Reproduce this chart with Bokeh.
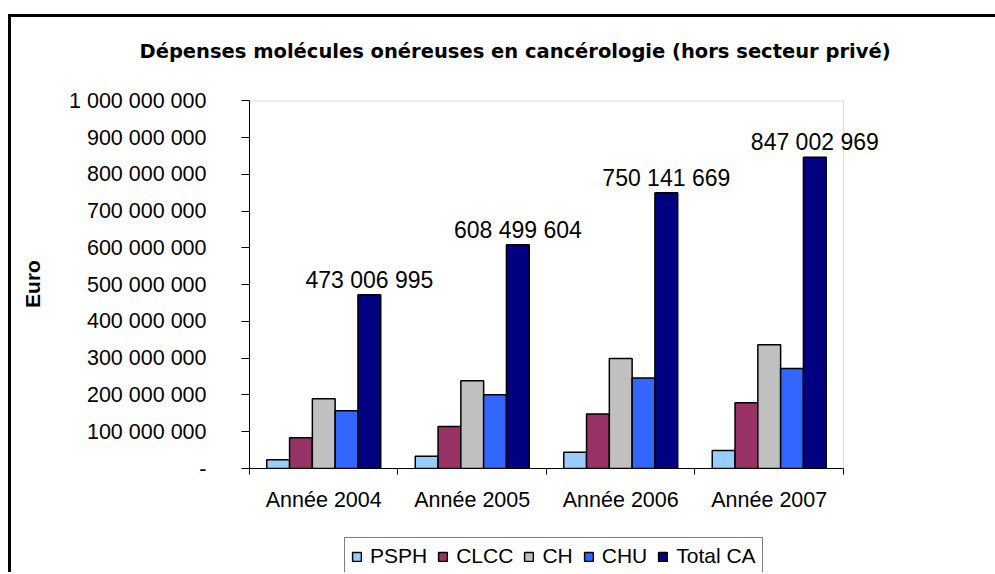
from bokeh.plotting import figure
from bokeh.layouts import column
from bokeh.models import (ColumnDataSource, FixedTicker, Legend, LegendItem, Title,
                          LabelSet, Range1d, BoxAnnotation)
from bokeh.transform import dodge
from bokeh.embed import file_html
from bokeh.resources import INLINE
from bokeh.core.properties import value

# ---- data ----
years = ["Année 2004", "Année 2005", "Année 2006", "Année 2007"]
series = ["PSPH", "CLCC", "CH", "CHU", "Total CA"]
psph = [24e6, 33e6, 44e6, 49e6]
clcc = [84e6, 114e6, 148e6, 179e6]
ch = [190e6, 239e6, 299e6, 337e6]
chu = [157e6, 201e6, 246e6, 272e6]
total_ca = [473006995, 608499604, 750141669, 847002969]
total_labels = ["473 006 995", "608 499 604", "750 141 669", "847 002 969"]
y_ticks = [0, 100000000, 200000000, 300000000, 400000000, 500000000,
           600000000, 700000000, 800000000, 900000000, 1000000000]
y_tick_labels = ["-", "100 000 000", "200 000 000", "300 000 000", "400 000 000",
                 "500 000 000", "600 000 000", "700 000 000", "800 000 000",
                 "900 000 000", "1 000 000 000"]
title_text = "Dépenses molécules onéreuses en cancérologie (hors secteur privé)"

colors = ["#99CCFF", "#993366", "#C0C0C0", "#3366FF", "#000080"]
FONT = "Liberation Sans"

n = len(years)
x_centers = [i + 0.5 for i in range(n)]
x_bounds = [float(i) for i in range(n + 1)]
y_top = y_ticks[-1]

source = ColumnDataSource(data=dict(
    x=x_centers, PSPH=psph, CLCC=clcc, CH=ch, CHU=chu, Total=total_ca,
    lab=total_labels,
))
cols = ["PSPH", "CLCC", "CH", "CHU", "Total"]
bw = 0.1535

# ---------------- main chart ----------------
# frame is wider than the plot area so the last data label can overflow it
p = figure(width=995, height=530, output_backend="svg", toolbar_location=None,
           x_range=Range1d(0, n * 1.096), y_range=Range1d(0, y_top * 1.004),
           min_border_left=249, min_border_right=95, min_border_top=98,
           min_border_bottom=62)

# plot-area box (grey top/right edges)
p.add_layout(BoxAnnotation(left=0, right=n, bottom=0, top=y_top, fill_color=None,
                           line_color="#909090", line_width=1, level="underlay"))

renderers = []
for i, (c, col) in enumerate(zip(cols, colors)):
    r = p.vbar(x=dodge("x", (i - 2) * bw, range=p.x_range), top=c, width=bw,
               source=source, fill_color=col, line_color="black", line_width=1.5)
    renderers.append(r)

labels = LabelSet(x=dodge("x", 2 * bw, range=p.x_range), y="Total", text="lab",
                  source=source, text_align="center", text_baseline="alphabetic",
                  y_offset=7, text_font=value(FONT), text_font_size="23px",
                  text_color="black")
p.add_layout(labels)

p.xgrid.visible = False
p.ygrid.visible = False
p.outline_line_color = None
p.background_fill_color = "white"
p.border_fill_color = None

# y axis
ya = p.yaxis[0]
ya.bounds = (0, y_top)
ya.ticker = FixedTicker(ticks=y_ticks, minor_ticks=[])
ya.major_label_overrides = dict(zip(y_ticks, y_tick_labels))
ya.major_tick_out = 8
ya.major_tick_in = 0
ya.minor_tick_line_color = None
ya.major_label_standoff = 35
ya.major_label_text_font = FONT
ya.major_label_text_font_size = "21.5px"
ya.major_label_text_color = "black"
ya.axis_line_color = "black"
ya.major_tick_line_color = "black"
ya.axis_label = "Euro"
ya.axis_label_text_font = FONT
ya.axis_label_text_font_style = "bold"
ya.axis_label_text_font_size = "21px"
ya.axis_label_text_color = "black"
ya.axis_label_standoff = 22

# x axis
xa = p.xaxis[0]
xa.bounds = (0, n)
xa.ticker = FixedTicker(ticks=x_centers, minor_ticks=x_bounds)
xa.major_label_overrides = dict(zip(x_centers, years))
xa.major_tick_out = 0
xa.major_tick_in = 0
xa.major_tick_line_color = None
xa.minor_tick_out = 6
xa.minor_tick_in = 0
xa.minor_tick_line_color = "black"
xa.axis_line_color = "black"
xa.major_label_standoff = 13
xa.major_label_text_font = FONT
xa.major_label_text_font_size = "21.5px"
xa.major_label_text_color = "black"

p.title = Title(text=title_text, align="left", offset=-110, standoff=74,
                text_font="DejaVu Sans", text_font_style="bold",
                text_font_size="19.5px", text_color="black")

# ---------------- legend strip (same frame columns as the chart) ----------------
q = figure(width=995, height=42, output_backend="svg", toolbar_location=None,
           x_range=p.x_range, y_range=Range1d(-2 * y_top, -y_top),
           x_axis_location=None, y_axis_location=None,
           min_border_left=249, min_border_right=95, min_border_top=0, min_border_bottom=0)
q.xgrid.visible = False
q.ygrid.visible = False
q.outline_line_color = None
q.background_fill_color = None
q.border_fill_color = None
q_renderers = []
for i, (c, col) in enumerate(zip(cols, colors)):
    r = q.vbar(x=dodge("x", (i - 2) * bw, range=q.x_range), top=c, width=bw,
               source=source, fill_color=col, line_color="black", line_width=1.5,
               visible=False)
    q_renderers.append(r)

legend = Legend(items=[LegendItem(label=s, renderers=[r]) for s, r in zip(series, q_renderers)],
                orientation="horizontal", location=(95, -3),
                label_text_font=FONT, label_text_font_size="21px", label_text_color="black",
                glyph_width=11, glyph_height=11, label_standoff=8, spacing=10,
                padding=6, margin=0, border_line_color="black", border_line_width=1,
                background_fill_color="white", background_fill_alpha=1.0,
                inactive_fill_alpha=0.0, click_policy="none")
q.add_layout(legend)

layout = column(p, q, spacing=0, styles={
    "background-image": "linear-gradient(#000, #000), linear-gradient(#000, #000)",
    "background-size": "3px 700px, 1100px 3px",
    "background-position": "8px 14px, 8px 14px",
    "background-repeat": "no-repeat",
})

open("out.html", "w").write(file_html(layout, INLINE))
